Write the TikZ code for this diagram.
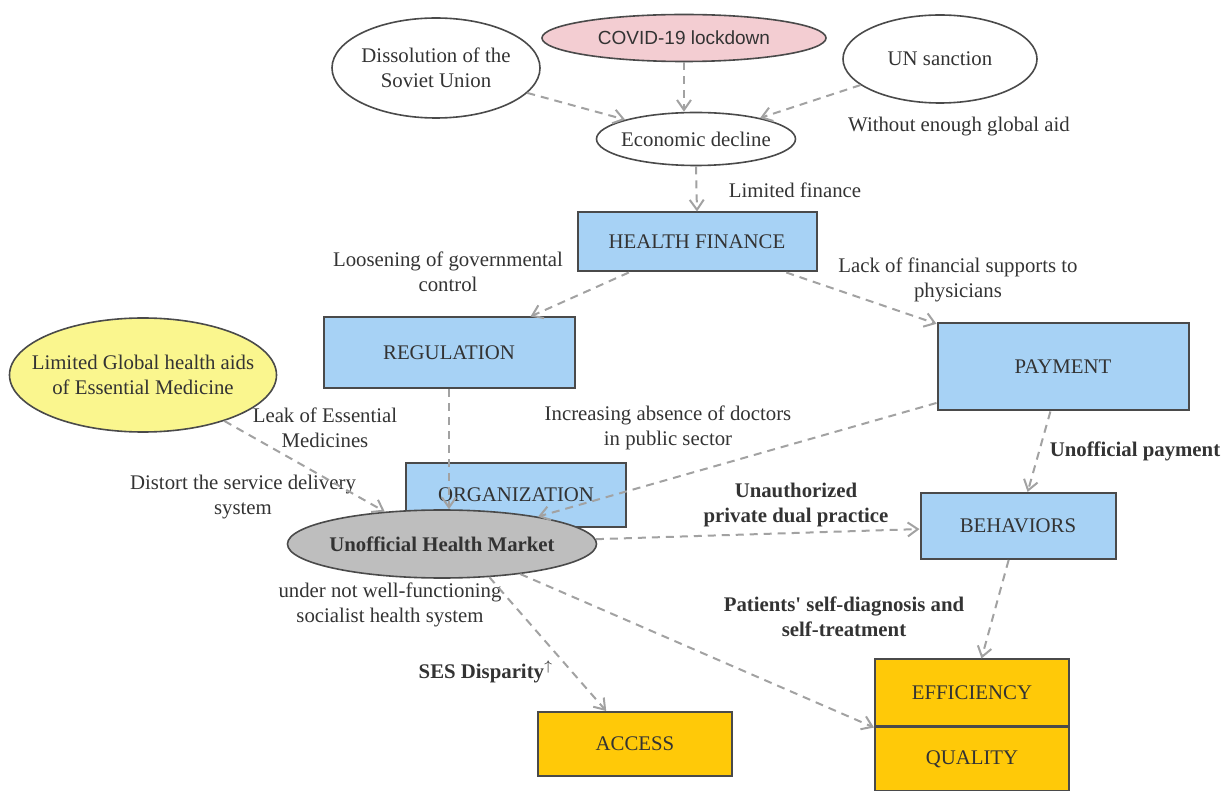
\documentclass[tikz,border=0pt]{standalone}
\usepackage{fontspec}
\setmainfont{Liberation Serif}
\newfontfamily\arialfont{Liberation Sans}
\usetikzlibrary{shapes.geometric,arrows.meta}
\definecolor{boxblue}{HTML}{A7D2F5}
\definecolor{boxgold}{HTML}{FFC908}
\definecolor{aidyellow}{HTML}{FAF68E}
\definecolor{covidpink}{HTML}{F3CDD2}
\definecolor{marketgray}{HTML}{BEBEBE}
\definecolor{edgegray}{HTML}{4A4A4A}
\definecolor{arrowgray}{HTML}{A2A2A2}
\definecolor{txtgray}{HTML}{333333}
\begin{document}
\begin{tikzpicture}[x=0.5pt, y=-0.5pt, font=\fontsize{10.4}{12.5}\selectfont,
    oval/.style={draw=edgegray, ellipse, line width=0.8pt, inner ysep=0pt, inner xsep=-3pt, text=txtgray, align=center},
    factor/.style={draw=edgegray, fill=boxblue, line width=1pt, inner sep=0pt, text=txtgray},
    outcome/.style={factor, fill=boxgold},
    note/.style={text=txtgray, align=center, inner sep=1pt},
    link/.style={draw=arrowgray, line width=1pt, dash pattern=on 4pt off 3pt,
                 -{Straight Barb[length=5pt,width=7pt]}}]
    \useasboundingbox (0,0) rectangle (1223,791);

    % root causes
    \node[oval, minimum width=104pt, minimum height=50pt] (soviet) at (436,68) {Dissolution of the\\Soviet Union};
    \node[oval, fill=covidpink, minimum width=142pt, minimum height=23.5pt,
          font=\arialfont\fontsize{9.5}{11}\selectfont] (covid) at (684,38) {COVID-19 lockdown};
    \node[oval, minimum width=97pt, minimum height=44pt] (un) at (940,59) {UN sanction};
    \node[oval, minimum width=99.5pt, minimum height=26.5pt] (econ) at (696,139) {Economic decline};
    \node[oval, fill=aidyellow, inner xsep=-9.5pt, minimum width=133.5pt, minimum height=57pt] (aid) at (143,375) {Limited Global health aids\\of Essential Medicine};

    % health system blocks
    \node[factor, minimum width=119.5pt, minimum height=29.5pt] (finance) at (697,242) {HEALTH FINANCE};
    \node[factor, minimum width=125.5pt, minimum height=35.5pt] (regulation) at (449,353) {REGULATION};
    \node[factor, minimum width=125.5pt, minimum height=43.5pt] (payment) at (1063,367) {PAYMENT};
    \node[factor, minimum width=110pt, minimum height=32pt] (organization) at (516,495) {ORGANIZATION};
    \node[factor, minimum width=97.5pt, minimum height=33pt] (behaviors) at (1018,526) {BEHAVIORS};
    \node[oval, fill=marketgray, minimum width=154.5pt, minimum height=34pt, font=\fontsize{10.4}{12.5}\selectfont\bfseries] (market) at (442,544) {Unofficial Health Market};

    % outcomes
    \node[outcome, minimum width=97pt, minimum height=32pt] (access) at (635,744) {ACCESS};
    \node[outcome, minimum width=97pt, minimum height=33.5pt] (efficiency) at (972,693) {EFFICIENCY};
    \node[outcome, minimum width=97pt, minimum height=32pt] (quality) at (972,759) {QUALITY};

    % labels
    \node[note] (aidlbl) at (959,127) {Without enough global aid};
    \node[note] (finlbl) at (795,190) {Limited finance};
    \node[note] (controllbl) at (448,272) {Loosening of governmental\\control};
    \node[note] (supportlbl) at (958,280) {Lack of financial supports to\\physicians};
    \node[note] (leaklbl) at (325,428) {Leak of Essential\\Medicines};
    \node[note] (absencelbl) at (668,428) {Increasing absence of doctors\\in public sector};
    \node[note, font=\fontsize{10.4}{12.5}\selectfont\bfseries] (paylbl) at (1135,451) {Unofficial payment};
    \node[note] (distortlbl) at (243,497) {Distort the service delivery\\system};
    \node[note, font=\fontsize{10.4}{12.5}\selectfont\bfseries] (duallbl) at (796,505) {Unauthorized\\private dual practice};
    \node[note] (socialistlbl) at (390,605) {under not well-functioning\\socialist health system};
    \node[note, font=\fontsize{10.4}{12.5}\selectfont\bfseries] (selflbl) at (844,617) {Patients\textquotesingle{} self-diagnosis and\\self-treatment};
    \node[note, font=\fontsize{10.4}{12.5}\selectfont\bfseries] (seslbl) at (486,672) {SES Disparity$^{\uparrow}$};

    % connectors
    \draw[link] (soviet) -- (econ);
    \draw[link] (covid.south) -- (covid.south |- econ.north);
    \draw[link] (un) -- (econ);
    \draw[link] (econ.south) -- (finance.north);
    \draw[link] (finance) -- (regulation);
    \draw[link] (finance) -- (payment);
    \draw[link] (regulation.south) -- (regulation.south |- market.north);
    \draw[link] (aid) -- (market);
    \draw[link] (payment) -- (market);
    \draw[link] (payment) -- (behaviors);
    \draw[link] (market) -- (behaviors);
    \draw[link] (behaviors) -- (efficiency);
    \draw[link] (market.-35) -- (access);
    \draw[link] (market.-21) -- (efficiency.south west);
\end{tikzpicture}
\end{document}
